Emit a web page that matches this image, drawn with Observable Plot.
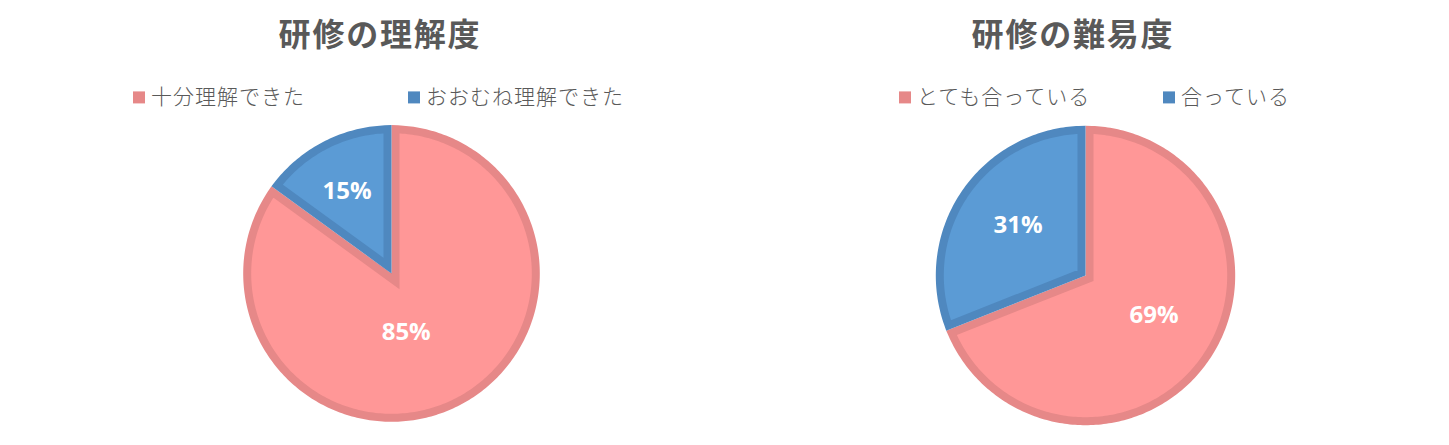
<!DOCTYPE html>
<html><head><meta charset="utf-8">
<script src="https://cdn.jsdelivr.net/npm/d3@7"></script>
<script src="https://cdn.jsdelivr.net/npm/@observablehq/plot@0.6"></script>
<style>
body{margin:0;background:#fff;}
#root{position:relative;width:1449px;height:445px;overflow:hidden;font-family:"Noto Sans CJK JP",sans-serif;}
.title{position:absolute;transform:translate(-50%,-50%);font-size:32px;font-weight:700;color:#595959;white-space:nowrap;line-height:1.2;letter-spacing:1.8px;}
.leg{position:absolute;display:flex;align-items:center;transform:translateY(-50%);font-size:21px;font-weight:300;color:#595959;white-space:nowrap;line-height:1.2;letter-spacing:1px;}
.sw{width:12px;height:12px;margin-right:6px;flex:none;position:relative;top:1px;}
.pie{position:absolute;}
</style></head><body><div id="root"></div>
<script>
// ---- data ----
const understandingTitle = "研修の理解度";
const understandingCategories = ["十分理解できた", "おおむね理解できた"];
const understandingValues = [85, 15];

const difficultyTitle = "研修の難易度";
const difficultyCategories = ["とても合っている", "合っている"];
const difficultyValues = [69, 31];

// ---- styles / layout ----
const FILLS = ["#FF9797", "#5B9BD5"];
const STROKES = ["#E68888", "#4F88BF"];
const BORDER = 8;
const S = 160;

const charts = [
  {title: understandingTitle, cats: understandingCategories, vals: understandingValues,
   cx: 390.7, cy: 272.7, R: 148.3, titleX: 380, titleY: 32,
   legendX: [133, 408], legendY: 96,
   labelLayout: [[0.41, 13], [0.63, -1.4]]},
  {title: difficultyTitle, cats: difficultyCategories, vals: difficultyValues,
   cx: 1085, cy: 274.8, R: 149.7, titleX: 1073, titleY: 32,
   legendX: [899, 1163], legendY: 96,
   labelLayout: [[0.53, -3.9], [0.56, 2.3]]}
];

const root = document.getElementById("root");

function slicePolygon(a0, a1, R, d, key, fill, stroke) {
  const pts = [];
  const half = (a1 - a0) / 2, mid = (a0 + a1) / 2;
  const rv = d / Math.sin(half);
  pts.push({x: rv * Math.sin(mid), y: rv * Math.cos(mid)});
  const Rm = R - d, da = Math.asin(d / Rm);
  const s = a0 + da, e = a1 - da;
  const n = Math.max(2, Math.ceil((e - s) / (Math.PI / 180)));
  for (let k = 0; k <= n; k++) {
    const a = s + (e - s) * k / n;
    pts.push({x: Rm * Math.sin(a), y: Rm * Math.cos(a)});
  }
  return pts.map(p => ({...p, key, fill, stroke}));
}

for (const c of charts) {
  const arcs = d3.pie().sort(null).startAngle(0).endAngle(2 * Math.PI)(c.vals);
  const pts = [];
  const labels = [];
  arcs.forEach((a, i) => {
    pts.push(...slicePolygon(a.startAngle, a.endAngle, c.R, BORDER / 2, c.cats[i], FILLS[i], STROKES[i]));
    const [rf, shift] = c.labelLayout[i];
    const ang = (a.startAngle + a.endAngle) / 2 + shift * Math.PI / 180;
    labels.push({x: rf * c.R * Math.sin(ang), y: rf * c.R * Math.cos(ang), text: `${c.vals[i]}%`});
  });

  const svg = Plot.plot({
    width: 2 * S, height: 2 * S, margin: 0,
    x: {domain: [-S, S], axis: null},
    y: {domain: [-S, S], axis: null},
    color: {type: "identity"},
    style: {background: "transparent", overflow: "visible"},
    marks: [
      Plot.line(pts, {x: "x", y: "y", z: "key", fill: "fill", stroke: "stroke",
        strokeWidth: BORDER, strokeLinejoin: "miter", strokeMiterlimit: 10, curve: "linear-closed"}),
      Plot.text(labels, {x: "x", y: "y", text: "text", fill: "white", fontSize: 24,
        fontWeight: "bold", fontFamily: "'Open Sans', sans-serif"})
    ]
  });
  svg.classList.add("pie");
  svg.style.left = (c.cx - S) + "px";
  svg.style.top = (c.cy - S) + "px";
  root.appendChild(svg);

  const t = document.createElement("div");
  t.className = "title";
  t.textContent = c.title;
  t.style.left = c.titleX + "px";
  t.style.top = c.titleY + "px";
  root.appendChild(t);

  c.cats.forEach((cat, i) => {
    const item = document.createElement("div");
    item.className = "leg";
    item.style.left = c.legendX[i] + "px";
    item.style.top = c.legendY + "px";
    const sw = document.createElement("span");
    sw.className = "sw";
    sw.style.background = STROKES[i];
    const tx = document.createElement("span");
    tx.textContent = cat;
    item.appendChild(sw); item.appendChild(tx);
    root.appendChild(item);
  });
}
</script></body></html>
